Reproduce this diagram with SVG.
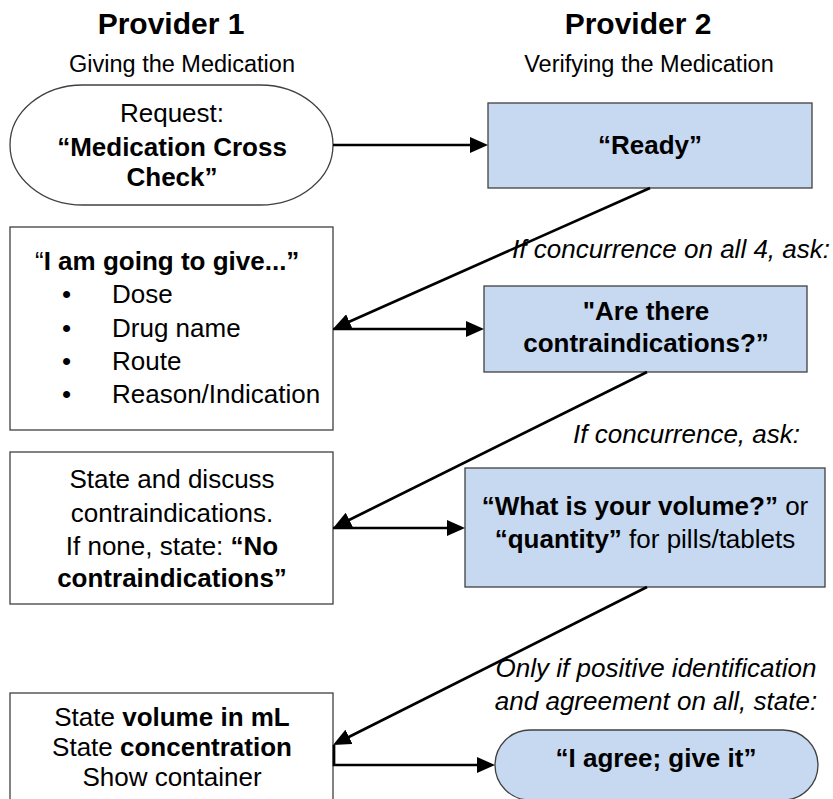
<svg xmlns="http://www.w3.org/2000/svg" width="833" height="799" viewBox="0 0 833 799">
<defs>
<style>
text{font-family:"Liberation Sans",Arial,sans-serif;fill:#000}
.h{font-size:30px;font-weight:bold;text-anchor:middle}
.s{font-size:23.5px;text-anchor:middle}
.t{font-size:26px}
.c{text-anchor:middle}
.b{font-weight:bold}
.i{font-style:italic}
.nw{fill:#fff;stroke:#404040;stroke-width:1.3}
.nb{fill:#c6d9f0;stroke:#404040;stroke-width:1.3}
.ln{fill:none;stroke:#000;stroke-width:2.7}
</style>
<marker id="ah" markerWidth="18" markerHeight="16" refX="7" refY="8" orient="auto" markerUnits="userSpaceOnUse"><path d="M0,0 L18,8 L0,16 z" fill="#000"/></marker>
</defs>
<g id="headers">
<text class="h" x="171" y="34">Provider 1</text>
<text class="s" x="182" y="72">Giving the Medication</text>
<text class="h" x="638" y="34">Provider 2</text>
<text class="s" x="649" y="72">Verifying the Medication</text>
</g>
<g id="request">
<rect class="nw" x="10" y="85" width="323" height="120" rx="73" ry="60"/>
<text class="t c" x="172" y="122">Request:</text>
<text class="t c b" x="172" y="156">“Medication Cross</text>
<text class="t c b" x="172" y="186">Check”</text>
</g>
<g id="ready">
<rect class="nb" x="488" y="103" width="324" height="85"/>
<text class="t c b" x="650" y="154">“Ready”</text>
</g>
<g id="give">
<rect class="nw" x="10" y="227" width="323" height="203"/>
<text class="t" x="35" y="270">“<tspan class="b">I am going to give...”</tspan></text>
<text class="t" x="62" y="303">•</text><text class="t" x="112" y="303">Dose</text>
<text class="t" x="62" y="337">•</text><text class="t" x="112" y="337">Drug name</text>
<text class="t" x="62" y="370">•</text><text class="t" x="112" y="370">Route</text>
<text class="t" x="62" y="403">•</text><text class="t" x="112" y="403">Reason/Indication</text>
</g>
<g id="ask-contra">
<text class="t i" x="830" y="258" text-anchor="end">If concurrence on all 4, ask:</text>
<rect class="nb" x="484" y="286" width="323" height="86"/>
<text class="t c b" x="646" y="320">"Are there</text>
<text class="t c b" x="646" y="352">contraindications?”</text>
</g>
<g id="state-contra">
<rect class="nw" x="10" y="452" width="323" height="152"/>
<text class="t c" x="172" y="488">State and discuss</text>
<text class="t c" x="172" y="522">contraindications.</text>
<text class="t c" x="172" y="555">If none, state: <tspan class="b">“No</tspan></text>
<text class="t c b" x="172" y="587">contraindications”</text>
</g>
<g id="ask-volume">
<text class="t i" x="800" y="443" text-anchor="end">If concurrence, ask:</text>
<rect class="nb" x="465" y="468" width="360" height="119"/>
<text class="t c" x="645" y="515"><tspan class="b">“What is your volume?”</tspan> or</text>
<text class="t c" x="645" y="548"><tspan class="b">“quantity”</tspan> for pills/tablets</text>
</g>
<g id="state-volume">
<rect class="nw" x="10" y="693" width="323" height="120"/>
<text class="t c" x="172" y="726">State <tspan class="b">volume in mL</tspan></text>
<text class="t c" x="172" y="756">State <tspan class="b">concentration</tspan></text>
<text class="t c" x="172" y="786">Show container</text>
</g>
<g id="agree">
<text class="t c i" x="656" y="677">Only if positive identification</text>
<text class="t c i" x="656" y="710">and agreement on all, state:</text>
<rect class="nb" x="495" y="730" width="323" height="70" rx="35" ry="35"/>
<text class="t c b" x="656" y="767">“I agree; give it”</text>
</g>
<g id="connectors">
<path class="ln" d="M333,145 H477" marker-end="url(#ah)"/>
<path class="ln" d="M650,188 L343,324.5" marker-end="url(#ah)"/>
<path class="ln" d="M333,329 H473" marker-end="url(#ah)"/>
<path class="ln" d="M647,372 L343,523" marker-end="url(#ah)"/>
<path class="ln" d="M333,528 H454" marker-end="url(#ah)"/>
<path class="ln" d="M647,587 L342.8,740" marker-end="url(#ah)"/>
<path class="ln" d="M334,745 V765 H484" marker-end="url(#ah)"/>
</g>
</svg>
